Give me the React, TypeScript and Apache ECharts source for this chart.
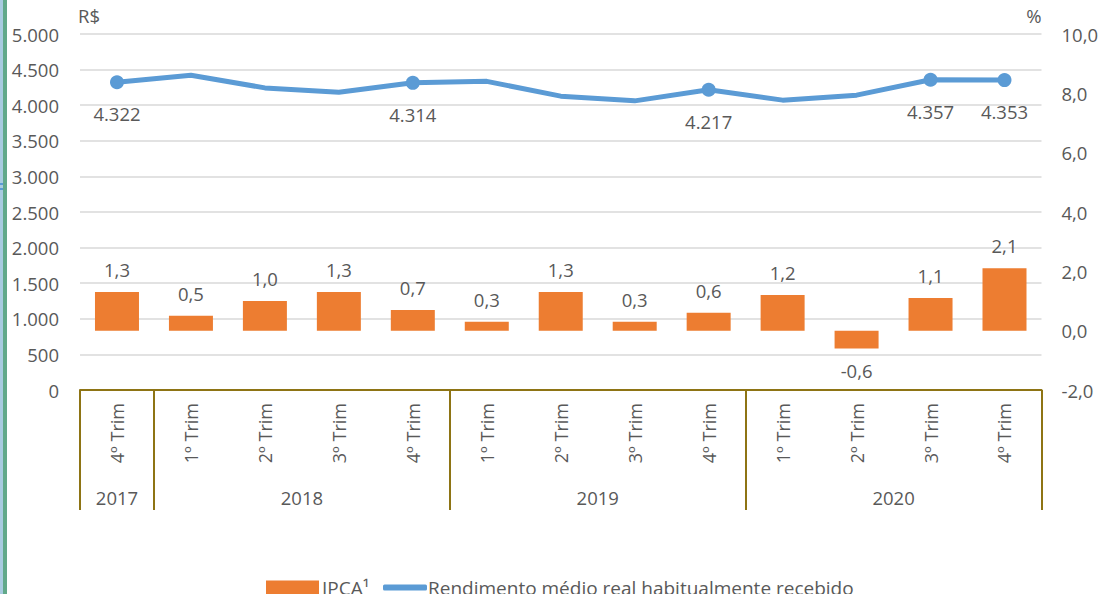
import React, { useEffect, useRef } from 'react';
import * as echarts from 'echarts';

const categories = ['4º Trim', '1º Trim', '2º Trim', '3º Trim', '4º Trim', '1º Trim', '2º Trim', '3º Trim', '4º Trim', '1º Trim', '2º Trim', '3º Trim', '4º Trim'];
const years = ['2017', '2018', '2019', '2020'];
const yearStartIndex = [0, 1, 5, 9];
const ipca = [1.3, 0.5, 1.0, 1.3, 0.7, 0.3, 1.3, 0.3, 0.6, 1.2, -0.6, 1.1, 2.1];
const rendimento = [4322, 4420, 4243, 4183, 4314, 4335, 4127, 4061, 4217, 4071, 4141, 4357, 4353];
const labeledPoints = [0, 4, 8, 11, 12];

const leftMin = 0;
const leftMax = 5000;
const leftInterval = 500;
const rightMin = -2;
const rightMax = 10;
const rightInterval = 2;

const IPCA_NAME = 'IPCA¹';
const REND_NAME = 'Rendimento médio real habitualmente recebido';

const FONT = 'Open Sans';
const TEXT = '#595959';
const GOLD = '#8E7414';
const FS = 18.5;

function fmtThousands(v: number): string {
  const s = Math.round(v).toString();
  return s.replace(/\B(?=(\d{3})+(?!\d))/g, '.');
}
function fmtDec(v: number): string {
  return v.toFixed(1).replace('.', ',');
}

// year axis: 2*n+1 slots on a boundaryGap:false axis; group centre = start+end (half-band units)
function buildYearAxis(): string[] {
  const n = categories.length;
  const arr: string[] = new Array(2 * n + 1).fill('');
  yearStartIndex.forEach((s, i) => {
    const e = i + 1 < yearStartIndex.length ? yearStartIndex[i + 1] : n;
    arr[s + e] = years[i];
  });
  return arr;
}

export default function App() {
  const ref = useRef<HTMLDivElement>(null);
  useEffect(() => {
    if (!ref.current) return;
    const chart = echarts.init(ref.current, undefined, { renderer: 'svg' });
    const boundaries = new Set(yearStartIndex);
    const option: any = {
      animation: false,
      backgroundColor: '#ffffff',
      textStyle: { fontFamily: FONT },
      grid: { left: 80, right: 56, top: 34, bottom: 204, containLabel: false },
      legend: [
        {
          data: [IPCA_NAME],
          left: 266,
          top: 578,
          padding: 0,
          icon: 'rect',
          itemWidth: 53,
          itemHeight: 14,
          itemGap: 5,
          textStyle: { fontFamily: FONT, fontSize: 19, color: TEXT, padding: [0, 0, 0, -2] },
        },
        {
          data: [REND_NAME],
          left: 383,
          top: 578,
          padding: 0,
          icon: 'roundRect',
          itemWidth: 44,
          itemHeight: 6,
          textStyle: { fontFamily: FONT, fontSize: 19, color: TEXT, padding: [0, 0, 0, -4] },
        },
      ],
      xAxis: [
        {
          type: 'category',
          data: categories,
          position: 'bottom',
          axisLine: { show: true, onZero: false, lineStyle: { color: GOLD, width: 2 } },
          axisTick: {
            show: true,
            length: 120,
            interval: (i: number) => boundaries.has(i),
            lineStyle: { color: GOLD, width: 2 },
          },
          axisLabel: {
            interval: 0,
            rotate: 90,
            margin: 13,
            fontFamily: FONT,
            fontSize: 18,
            color: TEXT,
          },
          splitLine: { show: false },
        },
        {
          type: 'category',
          data: buildYearAxis(),
          position: 'bottom',
          offset: 95,
          boundaryGap: false,
          axisLine: { show: false },
          axisTick: { show: false },
          axisLabel: { interval: 0, margin: 3, fontFamily: FONT, fontSize: FS, color: TEXT },
          splitLine: { show: false },
        },
      ],
      yAxis: [
        {
          type: 'value',
          min: leftMin,
          max: leftMax,
          interval: leftInterval,
          name: 'R$',
          nameLocation: 'end',
          nameGap: 9,
          nameTextStyle: { fontFamily: FONT, fontSize: FS, color: TEXT, align: 'left', padding: [0, 0, 0, -2] },
          axisLine: { show: false },
          axisTick: { show: false },
          axisLabel: { margin: 21, fontFamily: FONT, fontSize: FS, color: TEXT, formatter: (v: number) => fmtThousands(v) },
          splitLine: { show: true, lineStyle: { color: '#D9D9D9', width: 1.5 } },
        },
        {
          type: 'value',
          min: rightMin,
          max: rightMax,
          interval: rightInterval,
          name: '%',
          nameLocation: 'end',
          nameGap: 9,
          nameTextStyle: { fontFamily: FONT, fontSize: FS, color: TEXT, align: 'right', padding: [0, 0, 0, 0] },
          axisLine: { show: false },
          axisTick: { show: false },
          axisLabel: { margin: 20, fontFamily: FONT, fontSize: FS, color: TEXT, formatter: (v: number) => fmtDec(v) },
          splitLine: { show: false },
        },
      ],
      series: [
        {
          name: IPCA_NAME,
          type: 'bar',
          xAxisIndex: 0,
          yAxisIndex: 1,
          barWidth: 44,
          itemStyle: { color: '#ED7D31' },
          label: {
            show: true,
            fontFamily: FONT,
            fontSize: FS,
            color: TEXT,
            distance: 13,
            formatter: (p: any) => fmtDec(p.value),
          },
          data: ipca.map((v) => ({ value: v, label: { position: v < 0 ? 'bottom' : 'top' } })),
          z: 2,
        },
        {
          name: REND_NAME,
          type: 'line',
          xAxisIndex: 0,
          yAxisIndex: 0,
          symbol: 'circle',
          symbolSize: 14,
          showSymbol: true,
          lineStyle: { color: '#5B9BD5', width: 5 },
          itemStyle: { color: '#5B9BD5' },
          label: {
            show: false,
            position: 'bottom',
            distance: 15,
            fontFamily: FONT,
            fontSize: FS,
            color: TEXT,
            formatter: (p: any) => fmtThousands(p.value),
          },
          data: rendimento.map((v, i) =>
            labeledPoints.includes(i)
              ? { value: v, symbol: 'circle', label: { show: true } }
              : { value: v, symbol: 'none' }
          ),
          z: 3,
        },
      ],
      graphic: [
        { type: 'rect', left: 0, top: 0, shape: { width: 3, height: 594 }, style: { fill: '#A9CBE0' }, silent: true },
        { type: 'rect', left: 3, top: 0, shape: { width: 4, height: 594 }, style: { fill: '#62A98A' }, silent: true },
        { type: 'rect', left: 0, top: 183, shape: { width: 3, height: 2 }, style: { fill: '#5B9BD5' }, silent: true },
        { type: 'rect', left: 0, top: 188, shape: { width: 3, height: 2 }, style: { fill: '#5B9BD5' }, silent: true },
      ],
    };
    chart.setOption(option);
    return () => chart.dispose();
  }, []);
  return <div ref={ref} style={{ position: 'absolute', left: 0, top: 0, width: 1101, height: 594 }} />;
}
